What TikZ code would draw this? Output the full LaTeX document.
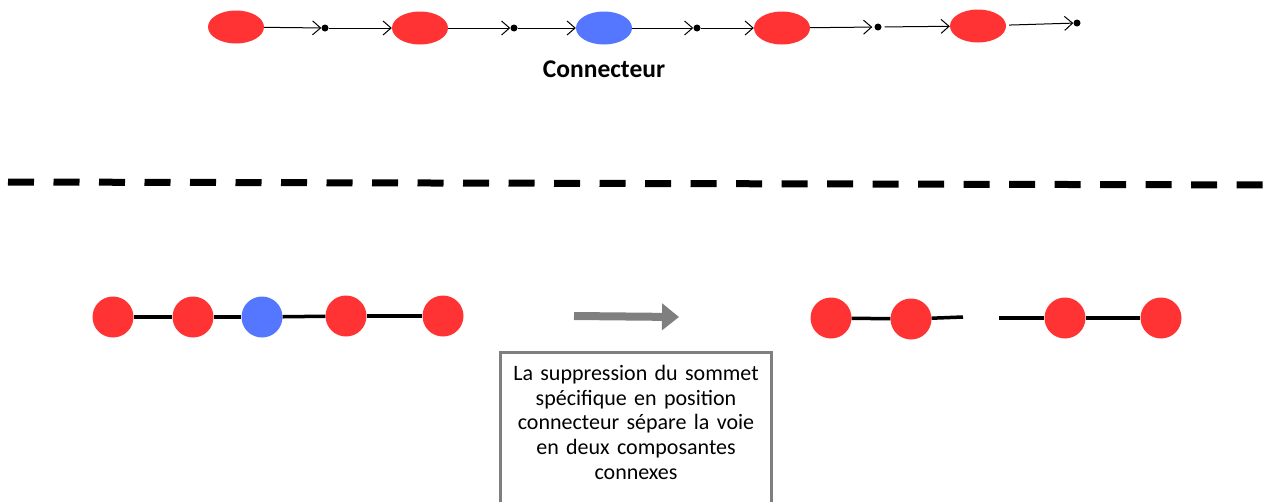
\documentclass[tikz,border=0pt]{standalone}
\usepackage{fontspec}
\setmainfont{Carlito}
\usetikzlibrary{arrows.meta, positioning, shapes.geometric}
\definecolor{vred}{HTML}{FF3333}
\definecolor{vblue}{HTML}{5577FF}
\definecolor{vgray}{HTML}{7F7F7F}

\begin{document}
\begin{tikzpicture}[
    x=1pt, y=-1pt,
    oval/.style={ellipse, fill=#1, minimum width=56pt, minimum height=33pt, inner sep=0pt},
    vertex/.style={circle, fill=#1, minimum size=41pt, inner sep=0pt},
    pt/.style={circle, fill=black, minimum size=7pt, inner sep=0pt},
    arr/.style={-{Straight Barb[length=8pt, width=14pt]}, line width=1pt},
    edge/.style={line width=3.5pt},
    note/.style={rectangle, align=center, text width=259pt,
                 inner xsep=6pt, inner ysep=13pt,
                 font=\fontsize{22}{24.75}\selectfont}
  ]
    \clip (0,0) rectangle (1282,501);
    \useasboundingbox (0,0) rectangle (1282,501);

    % top row
    \node[oval=vred] (r1) at (236,27) {};
    \node[pt] (d1) at (325,28) {};
    \node[oval=vred] (r2) at (420,28) {};
    \node[pt] (d2) at (514,28) {};
    \node[oval=vblue] (bl) at (604,28) {};
    \node[pt] (d3) at (697,28) {};
    \node[oval=vred] (r3) at (782,28) {};
    \node[pt] (d4) at (878,27) {};
    \node[oval=vred] (r4) at (978,26) {};
    \node[pt] (d5) at (1077,23) {};
    \node[font=\fontsize{25.5}{28}\selectfont\bfseries] (lab) at (604,69) {Connecteur};

    \draw[arr] (r1) -- (d1);
    \draw[arr] (d1) -- (r2);
    \draw[arr] (r2) -- (d2);
    \draw[arr] (d2) -- (bl);
    \draw[arr] (bl) -- (d3);
    \draw[arr] (d3) -- (r3);
    \draw[arr, shorten >=2pt] (r3) -- (d4);
    \draw[arr, shorten <=3pt] (d4) -- (r4);
    \draw[arr, shorten <=3pt] (r4) -- (d5);

    % separation
    \coordinate (sepL) at (8,182);
    \coordinate (sepR) at (1282,185);
    \draw[line width=7pt, dash pattern=on 26pt off 19.5pt] (sepL) -- (sepR);

    % bottom left path
    \node[vertex=vred] (a1) at (113,317) {};
    \node[vertex=vred] (a2) at (193,317) {};
    \node[vertex=vblue] (a3) at (262,317) {};
    \node[vertex=vred] (a4) at (346,316) {};
    \node[vertex=vred] (a5) at (443,316) {};
    \draw[edge] (a1) -- (a2);
    \draw[edge] (a2) -- (a3);
    \draw[edge] (a3) -- (a4);
    \draw[edge] (a4) -- (a5);

    % transformation arrow
    \coordinate (gA) at (574,316);
    \coordinate (gB) at (679,317);
    \draw[vgray, line width=8pt, -{Triangle[length=17pt, width=26pt]}] (gA) -- (gB);

    % bottom right path
    \node[vertex=vred] (b1) at (831,318) {};
    \node[vertex=vred] (b2) at (911,319) {};
    \coordinate (bE) at (963,317);
    \coordinate (cS) at (999,318);
    \node[vertex=vred] (c1) at (1065,318) {};
    \node[vertex=vred] (c2) at (1161,318) {};
    \draw[edge] (b1) -- (b2);
    \draw[edge] (b2) -- (bE);
    \draw[edge] (cS) -- (c1);
    \draw[edge] (c1) -- (c2);

    % caption box (runs off the bottom edge)
    \node[note, anchor=north] (txt) at (636,352)
      {La suppression du sommet\\ spécifique en position\\ connecteur sépare la voie\\ en deux composantes\\ connexes};
    \draw[vgray, line width=3pt] ([yshift=-60pt]txt.south west) |- (txt.north east) -- ([yshift=-60pt]txt.south east);
\end{tikzpicture}
\end{document}
